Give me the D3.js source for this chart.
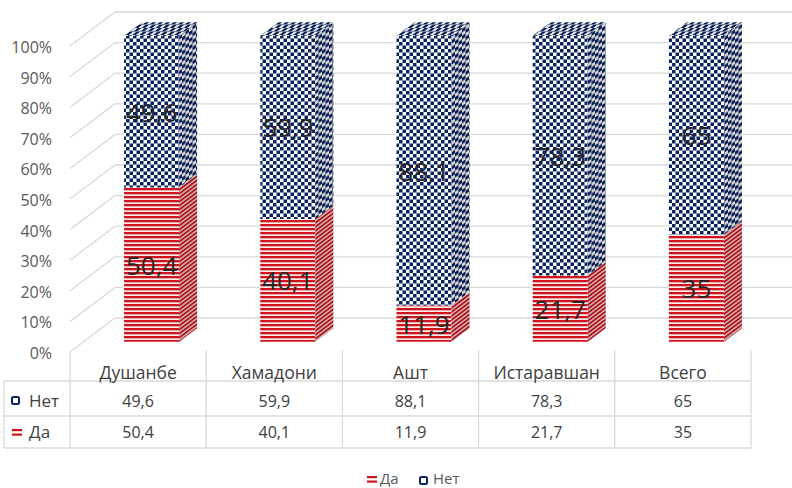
<!DOCTYPE html>
<html>
<head>
<meta charset="utf-8">
<script src="https://cdn.jsdelivr.net/npm/d3@7"></script>
<style>
  html, body { margin: 0; padding: 0; background: #ffffff; }
  svg { display: block; }
  text { font-family: "Open Sans", "Noto Sans", sans-serif; }
</style>
</head>
<body>
<svg id="chart" width="792" height="488"></svg>
<script>
// Survey shares by city, 100% stacked
const categories = ["Душанбе", "Хамадони", "Ашт", "Истаравшан", "Всего"];
const seriesNames = ["Да", "Нет"];
const daValues = [50.4, 40.1, 11.9, 21.7, 35];
const netValues = [49.6, 59.9, 88.1, 78.3, 65];
const tickValues = [0, 10, 20, 30, 40, 50, 60, 70, 80, 90, 100];
const valueLabel = v => String(v).replace(".", ",");

const svg = d3.select("#chart");
const defs = svg.append("defs");

// Oblique 3D projection: depth t in [0,1] shifts a point right and up
const DEPTH_X = 45, DEPTH_Y = 34;
const y = d3.scaleLinear().domain([0, 100]).range([352, 46]);
const x = d3.scaleBand().domain(categories).range([70, 751]).padding(0);
const BAR_T0 = 0.3, BAR_T1 = 0.7;
const BAR_W = x.bandwidth() * 0.404;
const proj = (px, v, t) => [px + DEPTH_X * t, y(v) - DEPTH_Y * t];

const RED = "#d0121b", NAVY = "#0a2463";

// Fill patterns: horizontal stripes (Да) and checkerboard (Нет)
function stripePattern(id, transform) {
  const p = defs.append("pattern").attr("id", id)
    .attr("patternUnits", "userSpaceOnUse").attr("width", 4).attr("height", 4);
  if (transform) p.attr("patternTransform", transform);
  p.append("rect").attr("width", 4).attr("height", 4).attr("fill", "#fdeeee");
  p.append("rect").attr("width", 4).attr("height", 2.3).attr("fill", RED);
}
function checkerPattern(id, transform) {
  const s = 7, c = 3.5;
  const p = defs.append("pattern").attr("id", id)
    .attr("patternUnits", "userSpaceOnUse").attr("width", s).attr("height", s);
  if (transform) p.attr("patternTransform", transform);
  p.append("rect").attr("width", s).attr("height", s).attr("fill", "#ffffff");
  p.append("rect").attr("x", 0).attr("y", 0).attr("width", c).attr("height", c).attr("fill", NAVY);
  p.append("rect").attr("x", c).attr("y", c).attr("width", c).attr("height", c).attr("fill", NAVY);
}
const sideSkew = `matrix(1,${-DEPTH_Y / DEPTH_X},0,1,0,0)`;
const topSkew = `matrix(1,0,${-DEPTH_X / DEPTH_Y},1,0,0)`;
stripePattern("daFront");
stripePattern("daSide", sideSkew);
checkerPattern("netFront");
checkerPattern("netSide", sideSkew);
checkerPattern("netTop", topSkew);

const GRID = "#d9d9d9";

// Walls: gridlines on the left wall and back wall
const grid = svg.append("g");
tickValues.forEach(v => {
  const a = proj(70, v, 0), b = proj(70, v, 1);
  grid.append("line").attr("x1", a[0]).attr("y1", a[1]).attr("x2", b[0]).attr("y2", b[1])
    .attr("stroke", GRID).attr("stroke-width", 1.3);
  grid.append("line").attr("x1", b[0]).attr("y1", b[1]).attr("x2", 800).attr("y2", b[1])
    .attr("stroke", GRID).attr("stroke-width", 1.3);
});

// Y axis labels
svg.append("g").selectAll("text").data(tickValues).join("text")
  .attr("x", 52).attr("y", d => y(d) + 1)
  .attr("text-anchor", "end").attr("dominant-baseline", "central")
  .attr("font-size", 16).attr("fill", "#595959")
  .text(d => d3.format(".0%")(d / 100));

// Stacked 3D bars
const stacked = categories.map((c, i) => ({
  cat: c,
  segs: [
    { name: "Да", v0: 0, v1: daValues[i], value: daValues[i] },
    { name: "Нет", v0: daValues[i], v1: daValues[i] + netValues[i], value: netValues[i] }
  ]
}));
const poly = pts => "M" + pts.map(p => p.join(",")).join("L") + "Z";
const bars = svg.append("g");
stacked.forEach(d => {
  const cx = x(d.cat) + x.bandwidth() / 2;
  const xl = cx - BAR_W / 2, xr = cx + BAR_W / 2;
  const g = bars.append("g");
  d.segs.forEach(s => {
    const key = s.name === "Да" ? "da" : "net";
    // front face
    g.append("path").attr("d", poly([proj(xl, s.v0, BAR_T0), proj(xr, s.v0, BAR_T0), proj(xr, s.v1, BAR_T0), proj(xl, s.v1, BAR_T0)]))
      .attr("fill", `url(#${key}Front)`);
    // right side face
    const side = poly([proj(xr, s.v0, BAR_T0), proj(xr, s.v0, BAR_T1), proj(xr, s.v1, BAR_T1), proj(xr, s.v1, BAR_T0)]);
    g.append("path").attr("d", side).attr("fill", `url(#${key}Side)`);
    g.append("path").attr("d", side).attr("fill", "#000").attr("fill-opacity", 0.16);
  });
  // top face of the stack
  const top = d.segs[d.segs.length - 1].v1;
  const tp = poly([proj(xl, top, BAR_T0), proj(xr, top, BAR_T0), proj(xr, top, BAR_T1), proj(xl, top, BAR_T1)]);
  g.append("path").attr("d", tp).attr("fill", "url(#netTop)");
  g.append("path").attr("d", tp).attr("fill", "#000").attr("fill-opacity", 0.1);
  // value labels on front faces
  d.segs.forEach(s => {
    const p = proj(cx, (s.v0 + s.v1) / 2, BAR_T0);
    g.append("text").attr("x", p[0]).attr("y", p[1])
      .attr("text-anchor", "middle").attr("dominant-baseline", "central")
      .attr("font-size", 26).attr("fill", "#262626")
      .text(valueLabel(s.value));
  });
});

// Data table under the plot
const table = svg.append("g");
const colEdges = categories.map(c => x(c)).concat([x.range()[1]]);
const rowY = [381, 416, 448];
colEdges.forEach((cx, i) => {
  table.append("line").attr("x1", cx).attr("x2", cx)
    .attr("y1", i === 0 ? 352 : 350).attr("y2", 448)
    .attr("stroke", GRID).attr("stroke-width", 1.3);
});
table.append("line").attr("x1", 4).attr("x2", 4).attr("y1", 381).attr("y2", 448)
  .attr("stroke", GRID).attr("stroke-width", 1.3);
rowY.forEach(ry => {
  table.append("line").attr("x1", 4).attr("x2", x.range()[1]).attr("y1", ry).attr("y2", ry)
    .attr("stroke", GRID).attr("stroke-width", 1.3);
});
// header
table.selectAll("text.hdr").data(categories).join("text").attr("class", "hdr")
  .attr("x", c => x(c) + x.bandwidth() / 2).attr("y", 379)
  .attr("text-anchor", "middle").attr("font-size", 17.5).attr("fill", "#404040")
  .text(c => c);
// rows: Нет then Да
const rows = [
  { name: "Нет", vals: netValues, base: 406.5 },
  { name: "Да", vals: daValues, base: 438 }
];
rows.forEach(r => {
  table.selectAll(null).data(r.vals).join("text")
    .attr("x", (v, i) => x(categories[i]) + x.bandwidth() / 2).attr("y", r.base)
    .attr("text-anchor", "middle").attr("font-size", 16).attr("fill", "#404040")
    .text(v => valueLabel(v));
  table.append("text").attr("x", 29).attr("y", r.base)
    .attr("font-size", 17).attr("fill", "#404040").text(r.name);
});

// Legend keys
function netKey(g, kx, ky) {
  g.append("rect").attr("x", kx).attr("y", ky).attr("width", 7).attr("height", 7).attr("rx", 1.5)
    .attr("fill", "#fff").attr("stroke", NAVY).attr("stroke-width", 2);
}
function daKey(g, kx, ky) {
  g.append("rect").attr("x", kx).attr("y", ky).attr("width", 10).attr("height", 2.2).attr("fill", RED);
  g.append("rect").attr("x", kx).attr("y", ky + 4.5).attr("width", 10).attr("height", 2.2).attr("fill", RED);
}
netKey(table, 12, 397);
daKey(table, 12, 429);

const legend = svg.append("g");
daKey(legend, 367, 476);
legend.append("text").attr("x", 380).attr("y", 484).attr("font-size", 15).attr("fill", "#595959").text(seriesNames[0]);
netKey(legend, 420, 477);
legend.append("text").attr("x", 433).attr("y", 484).attr("font-size", 15).attr("fill", "#595959").text(seriesNames[1]);
</script>
</body>
</html>
